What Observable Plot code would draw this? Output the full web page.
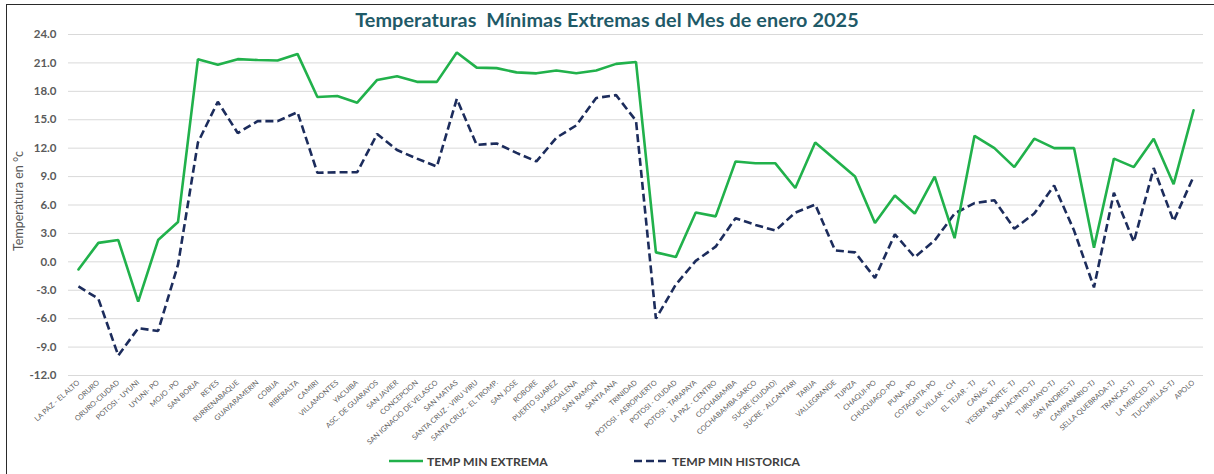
<!DOCTYPE html>
<html>
<head>
<meta charset="utf-8">
<script src="https://cdn.jsdelivr.net/npm/d3@7"></script>
<script src="https://cdn.jsdelivr.net/npm/@observablehq/plot@0.6"></script>
<style>
  html, body { margin: 0; padding: 0; background: #fff; }
  body { width: 1214px; height: 474px; position: relative; overflow: hidden; font-family: Lato, "Open Sans", sans-serif; }
  #frame { position: absolute; left: 6px; top: 4px; width: 1210px; height: 475px; border-top: 1.5px solid #2a2a2a; border-left: 1.5px solid #2a2a2a; box-sizing: border-box; pointer-events: none; }
  #title { height: 32px; line-height: 30px; padding-top: 4px; box-sizing: border-box; text-align: center; font-weight: bold; font-size: 19.8px; color: #1f5a68; letter-spacing: 0.1px; }
  #chart svg { overflow: visible; display: block; }
  #legend { position: absolute; top: 452px; left: 0; width: 1214px; height: 18px; font-size: 12.2px; font-weight: bold; color: #404040; }
  .li { position: absolute; top: 0; display: flex; align-items: center; height: 18px; }
  .li svg { margin-right: 4px; }
</style>
</head>
<body>
<div id="title">Temperaturas&nbsp; Mínimas Extremas del Mes de enero 2025</div>
<div id="chart"></div>
<div id="legend">
  <div class="li" style="left:389px"><svg width="34" height="6"><line x1="0" y1="3" x2="34" y2="3" stroke="#21b14b" stroke-width="2.6"/></svg>TEMP MIN EXTREMA</div>
  <div class="li" style="left:634px"><svg width="34" height="6"><line x1="0" y1="3" x2="34" y2="3" stroke="#1c2c5c" stroke-width="2.6" stroke-dasharray="8,4"/></svg>TEMP MIN HISTORICA</div>
</div>
<div id="frame"></div>
<script>
const stations = [
  "LA PAZ - EL ALTO","ORURO","ORURO-CIUDAD","POTOSI - UYUNI","UYUNI- PO","MOJO -PO","SAN BORJA","REYES",
  "RURRENABAQUE","GUAYARAMERIN","COBIJA","RIBERALTA","CAMIRI","VILLAMONTES","YACUIBA","ASC. DE GUARAYOS",
  "SAN JAVIER","CONCEPCION","SAN IGNACIO DE VELASCO","SAN MATIAS","SANTA CRUZ - VIRU VIRU","SANTA CRUZ - EL TROMP.",
  "SAN JOSE","ROBORE","PUERTO SUAREZ","MAGDALENA","SAN RAMON","SANTA ANA","TRINIDAD","POTOSI - AEROPUERTO",
  "POTOSI - CIUDAD","POTOSI - TARAPAYA","LA PAZ - CENTRO","COCHABAMBA","COCHABAMBA SARCO","SUCRE (CIUDAD)",
  "SUCRE - ALCANTARI","TARIJA","VALLEGRANDE","TUPIZA","CHAQUI-PO","CHUQUIAGO-PO","PUNA -PO","COTAGAITA-PO",
  "EL VILLAR - CH","EL TEJAR - TJ","CAÑAS- TJ","YESERA NORTE- TJ","SAN JACINTO-TJ","TURUMAYO-TJ","SAN ANDRES-TJ",
  "CAMPANARIO-TJ","SELLA QUEBRADA-TJ","TRANCAS-TJ","LA MERCED-TJ","TUCUMILLAS-TJ","APOLO"
];
const tempMinExtrema = [
  -0.8, 2.0, 2.3, -4.2, 2.3, 4.2, 21.4, 20.8, 21.4, 21.3, 21.25, 21.95, 17.4, 17.5, 16.8, 19.2,
  19.6, 19.0, 19.0, 22.1, 20.5, 20.45, 20.0, 19.9, 20.2, 19.9, 20.2, 20.9, 21.1, 1.0,
  0.5, 5.2, 4.8, 10.6, 10.4, 10.4, 7.8, 12.6, 10.8, 9.0, 4.1, 7.0, 5.1, 9.0,
  2.5, 13.3, 12.0, 10.0, 13.0, 12.0, 12.0, 1.5, 10.9, 10.0, 13.0, 8.2, 16.0
];
const tempMinHistorica = [
  -2.6, -3.9, -9.9, -7.0, -7.3, -0.3, 12.6, 16.9, 13.6, 14.85, 14.85, 15.8, 9.4, 9.45, 9.46, 13.5,
  11.8, 10.9, 10.06, 17.2, 12.35, 12.5, 11.5, 10.6, 13.1, 14.4, 17.3, 17.6, 14.9, -6.0,
  -2.4, 0.1, 1.6, 4.6, 3.9, 3.3, 5.2, 6.05, 1.2, 1.0, -1.7, 2.9, 0.5, 2.25,
  5.1, 6.2, 6.5, 3.5, 5.1, 8.05, 3.3, -2.7, 7.3, 2.1, 9.9, 4.3, 9.0
];
const yTicks = [-12, -9, -6, -3, 0, 3, 6, 9, 12, 15, 18, 21, 24];
const yTitle = "Temperatura en °c";

const rows = stations.map((s, i) => ({station: s, extrema: tempMinExtrema[i], historica: tempMinHistorica[i]}));

const chart = Plot.plot({
  width: 1214,
  height: 413,
  marginTop: 2,
  marginLeft: 68,
  marginRight: 11,
  marginBottom: 70,
  style: {fontFamily: "Lato, 'Open Sans', sans-serif", background: "transparent", overflow: "visible"},
  x: {type: "point", domain: stations, padding: 0.5, align: 0.5},
  y: {domain: [-12, 24]},
  marks: [
    Plot.gridY(yTicks, {stroke: "#d9d9d9", strokeOpacity: 1, strokeWidth: 1}),
    Plot.axisY(yTicks, {
      tickSize: 0, tickPadding: 12, tickFormat: d => d.toFixed(1),
      fontSize: 11.5, fontWeight: "bold", fill: "#5a5a5a", label: null
    }),
    Plot.text([yTitle], {frameAnchor: "left", textAnchor: "middle", rotate: -90, dx: -50, dy: -4, fontSize: 12.5, fill: "#595959", text: d => d}),
    Plot.axisX({
      tickSize: 0, tickPadding: 6, tickRotate: -42, fontSize: 7.3, fill: "#5f5f5f", label: null
    }),
    Plot.lineY(rows, {x: "station", y: "historica", stroke: "#1c2c5c", strokeWidth: 2.6, strokeDasharray: "8,4", strokeLinecap: "butt", strokeLinejoin: "miter"}),
    Plot.lineY(rows, {x: "station", y: "extrema", stroke: "#21b14b", strokeWidth: 2.6, strokeLinejoin: "miter"})
  ]
});
document.getElementById("chart").append(chart);
</script>
</body>
</html>
